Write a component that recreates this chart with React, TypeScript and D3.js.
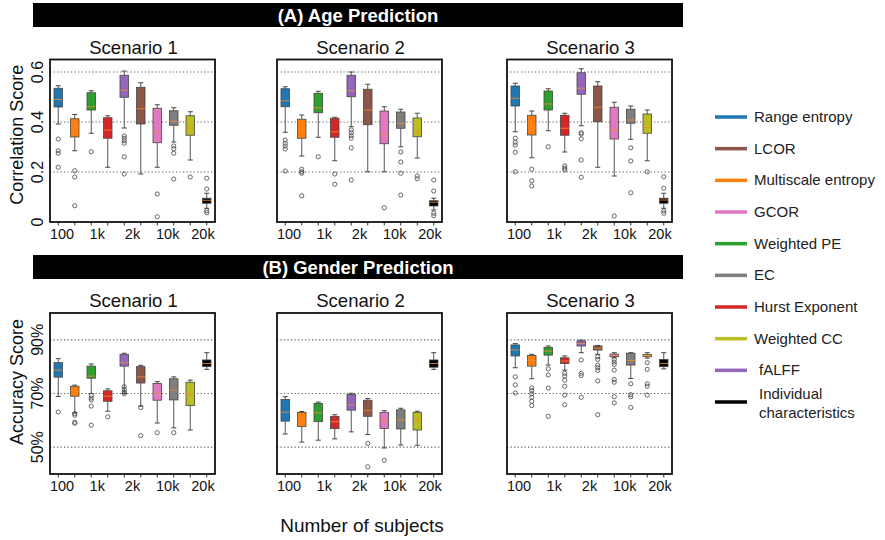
import * as d3 from "d3";

// box order inside every panel
const methods = [
  "Range entropy", "Multiscale entropy", "Weighted PE", "Hurst Exponent", "fALFF",
  "LCOR", "GCOR", "EC", "Weighted CC", "Individual characteristics",
];
const methodColors = [
  "#1f77b4", "#ff7f0e", "#2ca02c", "#d62728", "#9467bd",
  "#8c564b", "#e377c2", "#7f7f7f", "#bcbd22", "#000000",
];
// legend order on the right
const legendOrder = [
  "Range entropy", "LCOR", "Multiscale entropy", "GCOR", "Weighted PE",
  "EC", "Hurst Exponent", "Weighted CC", "fALFF", "Individual characteristics",
];

const scenarios = ["Scenario 1", "Scenario 2", "Scenario 3"];
const xTickLabels = ["100", "1k", "2k", "10k", "20k"];
const ageTicks = [0, 0.2, 0.4, 0.6];
const ageTickText = ["0", "0.2", "0.4", "0.6"];
const ageGrid = [0.2, 0.4, 0.6];
const genderTicks = [50, 70, 90];
const genderGrid = [50, 70, 90];

// [whisker low, q1, median, q3, whisker high]
const ageS1 = [
  [0.392, 0.46, 0.49, 0.535, 0.545], [0.285, 0.34, 0.377, 0.413, 0.43], [0.355, 0.448, 0.461, 0.517, 0.525],
  [0.219, 0.335, 0.368, 0.417, 0.425], [0.376, 0.499, 0.527, 0.587, 0.604], [0.192, 0.392, 0.453, 0.539, 0.557],
  [0.219, 0.317, 0.359, 0.455, 0.469], [0.32, 0.387, 0.403, 0.445, 0.457], [0.248, 0.347, 0.376, 0.425, 0.441],
  [0.055, 0.075, 0.087, 0.095, 0.115],
];
const ageS1Out = [
  [0.332, 0.285, 0.275, 0.219], [0.205, 0.18, 0.065], [0.281], [], [0.344, 0.335, 0.325, 0.315, 0.261, 0.192],
  [], [0.112, 0.021], [0.304, 0.293, 0.275, 0.172], [0.18], [0.175, 0.132, 0.045, 0.037],
];
const ageS2 = [
  [0.359, 0.461, 0.485, 0.533, 0.541], [0.264, 0.335, 0.37, 0.411, 0.428], [0.339, 0.437, 0.457, 0.515, 0.523],
  [0.245, 0.339, 0.361, 0.415, 0.419], [0.381, 0.501, 0.525, 0.587, 0.6], [0.201, 0.389, 0.448, 0.531, 0.551],
  [0.201, 0.313, 0.352, 0.444, 0.461], [0.301, 0.375, 0.395, 0.44, 0.451], [0.256, 0.341, 0.361, 0.416, 0.435],
  [0.048, 0.064, 0.079, 0.085, 0.095],
];
const ageS2Out = [
  [0.328, 0.315, 0.304, 0.292, 0.204], [0.211, 0.201, 0.195, 0.105], [0.261], [0.192, 0.151],
  [0.368, 0.357, 0.345, 0.335, 0.297, 0.168], [], [0.057], [0.28, 0.24, 0.195, 0.108], [0.184, 0.173],
  [0.168, 0.124, 0.035, 0.025],
];
const ageS3 = [
  [0.361, 0.464, 0.495, 0.544, 0.555], [0.257, 0.348, 0.38, 0.427, 0.444], [0.365, 0.448, 0.472, 0.524, 0.533],
  [0.28, 0.347, 0.375, 0.427, 0.435], [0.385, 0.511, 0.535, 0.597, 0.613], [0.219, 0.401, 0.459, 0.544, 0.561],
  [0.184, 0.332, 0.368, 0.459, 0.479], [0.331, 0.395, 0.408, 0.451, 0.464], [0.245, 0.355, 0.379, 0.432, 0.448],
  [0.055, 0.075, 0.088, 0.095, 0.115],
];
const ageS3Out = [
  [0.335, 0.319, 0.308, 0.279, 0.201], [0.211, 0.165, 0.144], [0.301], [0.224, 0.215, 0.208],
  [0.357, 0.352, 0.333, 0.248, 0.179], [], [0.024], [0.297, 0.244, 0.117], [0.201], [0.181, 0.135, 0.044, 0.035],
];

const genderS1 = [
  [68.9, 76.1, 78.7, 81.5, 83.0], [62.8, 69.0, 70.9, 72.7, 73.1], [70.0, 75.7, 76.5, 80.2, 81.0],
  [63.4, 67.1, 69.0, 71.0, 71.7], [70.0, 80.2, 81.5, 84.6, 85.0], [65.3, 73.9, 76.2, 80.0, 80.5],
  [59.0, 67.5, 70.0, 73.7, 74.4], [57.2, 67.6, 71.2, 75.5, 76.2], [56.4, 65.5, 69.6, 74.2, 75.0],
  [79.0, 80.0, 81.2, 82.5, 85.2],
];
const genderS1Out = [
  [63.1], [62.5, 61.9, 59.3, 58.9], [69.3, 68.3, 67.6, 65.3, 58.2], [61.3], [72.5, 71.5, 70.5, 69.9],
  [64.8, 54.3], [55.4], [55.4], [], [],
];
const genderS2 = [
  [54.9, 59.7, 63.0, 67.8, 68.8], [51.9, 57.7, 60.5, 62.9, 63.3], [52.6, 59.5, 62.8, 66.3, 66.8],
  [53.1, 56.9, 59.5, 61.5, 62.1], [55.7, 63.8, 65.8, 69.6, 70.1], [54.7, 61.5, 63.6, 67.5, 68.1],
  [49.7, 57.0, 59.8, 63.0, 63.6], [50.8, 56.8, 60.2, 63.9, 64.5], [50.7, 56.4, 60.0, 63.0, 63.4],
  [79.0, 79.8, 81.2, 82.5, 85.2],
];
const genderS2Out = [[], [], [], [], [], [51.4, 42.7], [45.1], [], [], []];
const genderS3 = [
  [79.6, 84.0, 86.2, 88.1, 88.6], [75.5, 80.2, 82.3, 84.2, 84.6], [80.6, 84.3, 85.8, 87.2, 87.7],
  [78.7, 81.2, 82.1, 83.3, 84.0], [85.2, 87.7, 88.6, 89.6, 89.9], [84.6, 86.2, 86.9, 87.7, 87.9],
  [83.3, 83.7, 84.2, 84.7, 85.2], [75.6, 80.6, 82.3, 85.0, 85.2], [83.2, 83.7, 84.2, 84.6, 85.2],
  [79.2, 80.0, 81.2, 82.7, 85.2],
];
const genderS3Out = [
  [76.2, 73.2, 70.2], [72.1, 71.1, 69.9, 68.6, 67.1, 65.5], [79.2, 76.9, 72.0, 61.5],
  [77.5, 76.5, 75.0, 72.7, 69.4, 65.8], [82.5, 77.5, 76.7, 68.6],
  [83.7, 82.7, 80.6, 79.6, 78.6, 74.7, 62.1], [82.7, 81.7, 80.8, 78.7, 75.2, 74.2, 68.8, 66.5],
  [73.6, 69.6, 68.8, 64.8], [81.5, 79.0, 73.6, 72.7, 69.4], [],
];

const ageStats = [ageS1, ageS2, ageS3];
const ageOutliers = [ageS1Out, ageS2Out, ageS3Out];
const genderStats = [genderS1, genderS2, genderS3];
const genderOutliers = [genderS1Out, genderS2Out, genderS3Out];

const FONT = "'Liberation Sans', Arial, Helvetica, sans-serif";
const panelLefts = [50, 277, 507];
const panelW = 165;
const boxW = 8.5;

type PanelProps = {
  left: number;
  top: number;
  bottom: number;
  title: string;
  y: d3.ScaleLinear<number, number>;
  grid: number[];
  stats: number[][];
  outliers: number[][];
};

function Panel({ left, top, bottom, title, y, grid, stats, outliers }: PanelProps) {
  const x = d3.scalePoint<string>().domain(methods).range([left, left + panelW]).padding(0.5);
  const xl = d3.scalePoint<string>().domain(xTickLabels).range([left + 12, left + 153]);
  const cx = left + panelW / 2;
  return (
    <g>
      <text x={cx + 1} y={top - 6} textAnchor="middle" fontSize={18.5} fontFamily={FONT} fill="#111">
        {title}
      </text>
      {grid.map((g) => (
        <line key={g} x1={left} x2={left + panelW} y1={y(g)} y2={y(g)} stroke="#666"
          strokeWidth={1.2} strokeDasharray="1.3 2.2" />
      ))}
      {methods.map((m, i) => {
        const [lo, q1, med, q3, hi] = stats[i];
        const c = x(m)!;
        return (
          <g key={m}>
            <line x1={c} x2={c} y1={y(lo)} y2={y(q1)} stroke="#555" strokeWidth={1} />
            <line x1={c} x2={c} y1={y(q3)} y2={y(hi)} stroke="#555" strokeWidth={1} />
            <line x1={c - 2.5} x2={c + 2.5} y1={y(lo)} y2={y(lo)} stroke="#444" strokeWidth={1} />
            <line x1={c - 2.5} x2={c + 2.5} y1={y(hi)} y2={y(hi)} stroke="#444" strokeWidth={1} />
            <rect x={c - boxW / 2} y={y(q3)} width={boxW} height={Math.max(1, y(q1) - y(q3))}
              fill={methodColors[i]} stroke="#444" strokeWidth={0.8} />
            <line x1={c - boxW / 2} x2={c + boxW / 2} y1={y(med)} y2={y(med)} stroke="#f08a2c"
              strokeWidth={1} strokeOpacity={0.85} />
            {outliers[i].map((o, k) => (
              <circle key={k} cx={c} cy={y(o)} r={2.1} fill="none" stroke="#444" strokeWidth={0.8} />
            ))}
            <line x1={c} x2={c} y1={bottom} y2={bottom + 3.5} stroke="#333" strokeWidth={1} />
          </g>
        );
      })}
      <rect x={left} y={top} width={panelW} height={bottom - top} fill="none" stroke="#111" strokeWidth={1.8} />
      {xTickLabels.map((t) => (
        <text key={t} x={xl(t)} y={bottom + 16.5} textAnchor="middle" fontSize={14.5} fontFamily={FONT} fill="#111">
          {t}
        </text>
      ))}
    </g>
  );
}

export default function App() {
  const ageTop = 59.5, ageBottom = 222;
  const genTop = 313, genBottom = 474;
  const yAge = d3.scaleLinear().domain([0, 0.65]).range([ageBottom, ageTop]);
  const yGen = d3.scaleLinear().domain([40, 100]).range([genBottom, genTop]);
  const legendY = d3.scalePoint<string>().domain(legendOrder).range([117, 402]);
  const legendColor = (name: string) => methodColors[methods.indexOf(name)];

  return (
    <svg width={885} height={540} style={{ position: "absolute", left: 0, top: 0, background: "#fff" }}
      fontFamily={FONT}>
      <rect x={0} y={0} width={885} height={540} fill="#fff" />
      {/* banners */}
      <rect x={33} y={3} width={650} height={24} fill="#000" />
      <text x={358} y={21.5} textAnchor="middle" fill="#fff" fontWeight="bold" fontSize={18.5}>
        (A) Age Prediction
      </text>
      <rect x={33} y={255} width={650} height={24} fill="#000" />
      <text x={358} y={273.5} textAnchor="middle" fill="#fff" fontWeight="bold" fontSize={18.5}>
        (B) Gender Prediction
      </text>

      {/* age panels */}
      {scenarios.map((s, i) => (
        <Panel key={"a" + s} left={panelLefts[i]} top={ageTop} bottom={ageBottom} title={s} y={yAge}
          grid={ageGrid} stats={ageStats[i]} outliers={ageOutliers[i]} />
      ))}
      {ageTicks.map((t, i) => (
        <text key={t} transform={`translate(43,${yAge(t)}) rotate(-90)`} textAnchor="middle" fontSize={16} fill="#111">
          {ageTickText[i]}
        </text>
      ))}
      <text transform={`translate(23,${(ageTop + ageBottom) / 2 - 6}) rotate(-90)`} textAnchor="middle" fontSize={18} fill="#111">
        Correlation Score
      </text>

      {/* gender panels */}
      {scenarios.map((s, i) => (
        <Panel key={"g" + s} left={panelLefts[i]} top={genTop} bottom={genBottom} title={s} y={yGen}
          grid={genderGrid} stats={genderStats[i]} outliers={genderOutliers[i]} />
      ))}
      {genderTicks.map((t) => (
        <text key={t} transform={`translate(43,${yGen(t)}) rotate(-90)`} textAnchor="middle" fontSize={16} fill="#111">
          {t + "%"}
        </text>
      ))}
      <text transform={`translate(23,382) rotate(-90)`} textAnchor="middle" fontSize={18} fill="#111">
        Accuracy Score
      </text>

      <text x={362} y={532} textAnchor="middle" fontSize={19} fill="#111">
        Number of subjects
      </text>

      {/* legend */}
      {legendOrder.map((name) => {
        const ly = legendY(name)!;
        const two = name === "Individual characteristics";
        const tx = name === "fALFF" ? 759 : 754;
        return (
          <g key={name}>
            <line x1={715} x2={747} y1={ly} y2={ly} stroke={legendColor(name)} strokeWidth={3.5} />
            {two ? (
              <text x={759} y={ly - 3} fontSize={15} fill="#222">
                <tspan x={759}>Individual</tspan>
                <tspan x={759} dy={19}>characteristics</tspan>
              </text>
            ) : (
              <text x={tx} y={ly + 5} fontSize={15} fill="#222">
                {name}
              </text>
            )}
          </g>
        );
      })}
    </svg>
  );
}
